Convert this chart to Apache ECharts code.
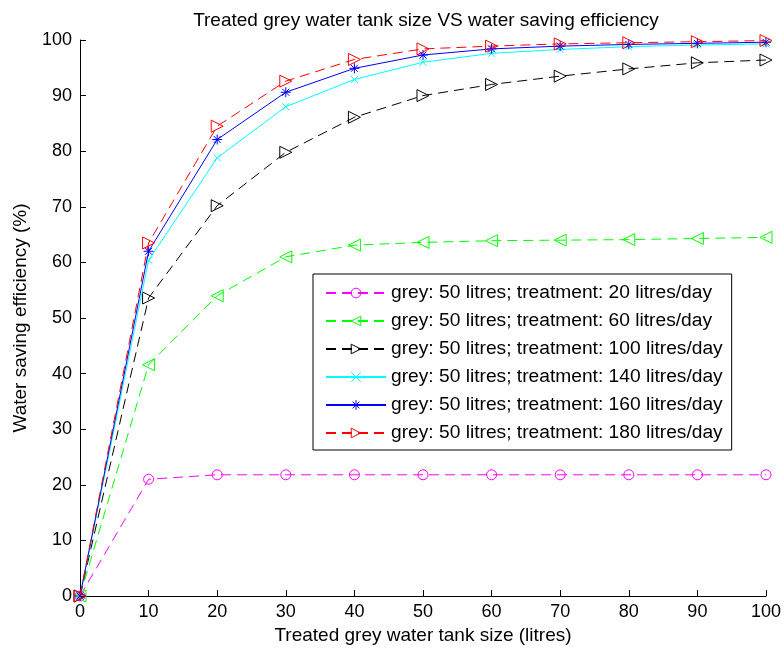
<!DOCTYPE html>
<html>
<head>
<meta charset="utf-8">
<script src="https://cdn.jsdelivr.net/npm/echarts@6/dist/echarts.min.js"></script>
<style>html,body{margin:0;padding:0;background:#fff}#c{width:784px;height:653px}</style>
</head>
<body>
<div id="c"></div>
<script>
const tankSizes = [0, 10, 20, 30, 40, 50, 60, 70, 80, 90, 100];
const seriesNames = [
  'grey: 50 litres; treatment: 20 litres/day',
  'grey: 50 litres; treatment: 60 litres/day',
  'grey: 50 litres; treatment: 100 litres/day',
  'grey: 50 litres; treatment: 140 litres/day',
  'grey: 50 litres; treatment: 160 litres/day',
  'grey: 50 litres; treatment: 180 litres/day'
];
const t20  = [0, 21.0, 21.8, 21.8, 21.8, 21.8, 21.8, 21.8, 21.8, 21.8, 21.8];
const t60  = [0, 41.6, 54.0, 61.0, 63.1, 63.6, 63.9, 64.0, 64.1, 64.3, 64.5];
const t100 = [0, 53.6, 70.2, 79.8, 86.1, 90.0, 92.0, 93.5, 94.8, 95.9, 96.4];
const t140 = [0, 60.4, 78.8, 88.0, 92.9, 96.0, 97.6, 98.3, 98.8, 99.1, 99.3];
const t160 = [0, 62.0, 82.1, 90.6, 94.9, 97.3, 98.4, 98.9, 99.2, 99.4, 99.6];
const t180 = [0, 63.5, 84.5, 92.6, 96.5, 98.4, 98.9, 99.3, 99.5, 99.7, 99.9];
const xTicks = [0, 10, 20, 30, 40, 50, 60, 70, 80, 90, 100];

const colors = ['#ff00ff', '#00ff00', '#000000', '#00ffff', '#0000ff', '#ff0000'];
const symbols = [
  'circle',
  'path://M10,0 L0,5 L10,10 Z',
  'path://M0,0 L10,5 L0,10 Z',
  'path://M0,0 L10,10 M10,0 L0,10',
  'path://M5,0 L5,10 M0,5 L10,5 M1.5,1.5 L8.5,8.5 M8.5,1.5 L1.5,8.5',
  'path://M0,0 L10,5 L0,10 Z'
];
const symSizes = [10, 12, 12, 7, 10, 12];
const dashes = [[10,6], [10,6], [10,6], 'solid', 'solid', [10,6]];
const values = [t20, t60, t100, t140, t160, t180];

const FONT = 'Liberation Sans';
const series = values.map((v, i) => ({
  name: seriesNames[i],
  type: 'line',
  data: tankSizes.map((x, k) => [x, v[k]]),
  symbol: symbols[i],
  symbolSize: symSizes[i],
  showAllSymbol: true,
  lineStyle: { color: colors[i], width: 1, type: dashes[i] },
  itemStyle: { color: 'rgba(255,255,255,0)', borderColor: colors[i], borderWidth: 1 },
  emphasis: { disabled: true },
  animation: false,
  z: 2 + i
}));

const chart = echarts.init(document.getElementById('c'), null, { renderer: 'canvas' });
chart.setOption({
  backgroundColor: '#fff',
  animation: false,
  title: {
    text: 'Treated grey water tank size VS water saving efficiency',
    left: 421, top: 6, textAlign: 'center',
    textStyle: { fontFamily: FONT, fontSize: 19, fontWeight: 'normal', color: '#000' }
  },
  grid: { left: 80, right: 18, top: 40, bottom: 57, containLabel: false },
  xAxis: {
    type: 'value', min: 0, max: 100, interval: 10,
    name: 'Treated grey water tank size (litres)',
    nameLocation: 'middle', nameGap: 26,
    nameTextStyle: { fontFamily: FONT, fontSize: 19, color: '#000' },
    axisLine: { lineStyle: { color: '#000', width: 1 } },
    axisTick: { inside: true, length: 6, lineStyle: { color: '#000' } },
    axisLabel: { fontFamily: FONT, fontSize: 18, color: '#000', margin: 7, formatter: v => String(v) },
    splitLine: { show: false }
  },
  yAxis: {
    type: 'value', min: 0, max: 100, interval: 10,
    name: 'Water saving efficiency (%)',
    nameLocation: 'middle', nameGap: 50,
    nameTextStyle: { fontFamily: FONT, fontSize: 19, color: '#000' },
    axisLine: { show: true, lineStyle: { color: '#000', width: 1 } },
    axisTick: { show: true, inside: true, length: 6, lineStyle: { color: '#000' } },
    axisLabel: { fontFamily: FONT, fontSize: 18, color: '#000', margin: 8 },
    splitLine: { show: false }
  },
  legend: {
    orient: 'vertical', left: 313, top: 274,
    data: seriesNames,
    backgroundColor: '#fff',
    borderColor: '#000', borderWidth: 1,
    padding: [9, 9, 7, 12],
    itemWidth: 60, itemHeight: 12, itemGap: 8,
    itemStyle: { borderWidth: 1 },
    textStyle: { fontFamily: FONT, fontSize: 19.2, color: '#000', lineHeight: 20 },
    selectedMode: false
  },
  series: series
});
</script>
</body>
</html>
